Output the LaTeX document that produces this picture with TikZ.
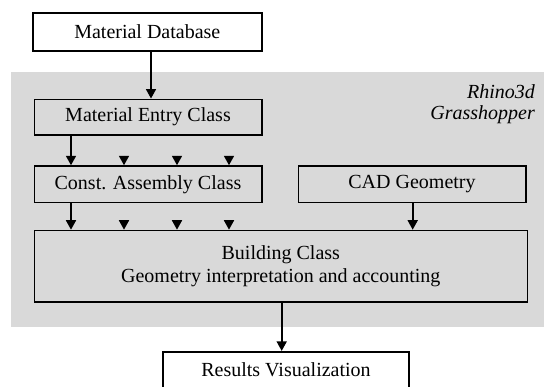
\documentclass[tikz,border=0pt]{standalone}
\usepackage{fontspec}
\setmainfont{Liberation Serif}
\usetikzlibrary{arrows.meta}
\definecolor{bg}{HTML}{D9D9D9}
\begin{document}
\begin{tikzpicture}[x=1pt,y=-1pt,
  box/.style={draw=black, line width=1.6pt, inner sep=0pt, align=center,
    font=\fontsize{20}{23}\selectfont},
  wbox/.style={box, fill=white},
  gbox/.style={box, fill=bg},
  arr/.style={line width=1.6pt, -{Triangle[length=9.5pt,width=10pt]}},
  lbl/.style={font=\fontsize{20}{21.7}\selectfont\itshape, align=right, inner sep=0pt}]
\useasboundingbox (0,0) rectangle (544,386);
\clip (0,0) rectangle (544,386);
\fill[bg] (10.7,71.7) rectangle (544,326.7);
\node[lbl, anchor=north east] (rg) at (535,84) {Rhino3d\\Grasshopper};
\node[wbox, minimum width=229pt, minimum height=38pt] (md) at (147.3,31.7) {Material Database};
\node[gbox, minimum width=227.4pt, minimum height=35.7pt] (mec) at (148,117.2) {Material Entry Class};
\node[gbox, minimum width=227.4pt, minimum height=36.5pt] (cac) at (148,184.3) {Const. Assembly Class};
\node[gbox, minimum width=227.4pt, minimum height=36.5pt] (cad) at (412,184.3) {CAD Geometry};
\node[gbox, minimum width=493pt, minimum height=71.2pt] (bld) at (280.8,266.1) {Building Class\\Geometry interpretation and accounting};
\node[wbox, minimum width=246pt, minimum height=37pt] (res) at (286,370.2) {Results Visualization};
\coordinate (xa) at (151,0);
\coordinate (x1) at (71,0);
\coordinate (x2) at (124,0);
\coordinate (x3) at (177,0);
\coordinate (x4) at (229,0);
\coordinate (xc) at (412.7,0);
\coordinate (xr) at (281.7,0);
\draw[arr] (md.south -| xa) -- (mec.north -| xa);
\draw[arr] (mec.south -| x1) -- (cac.north -| x1);
\foreach \k in {x2,x3,x4} {
  \draw[arr] ([yshift=9.5pt]cac.north -| \k) -- (cac.north -| \k);
}
\draw[arr] (cac.south -| x1) -- (bld.north -| x1);
\foreach \k in {x2,x3,x4} {
  \draw[arr] ([yshift=9.5pt]bld.north -| \k) -- (bld.north -| \k);
}
\draw[arr] (cad.south -| xc) -- (bld.north -| xc);
\draw[arr] (bld.south -| xr) -- (res.north -| xr);
\end{tikzpicture}
\end{document}
